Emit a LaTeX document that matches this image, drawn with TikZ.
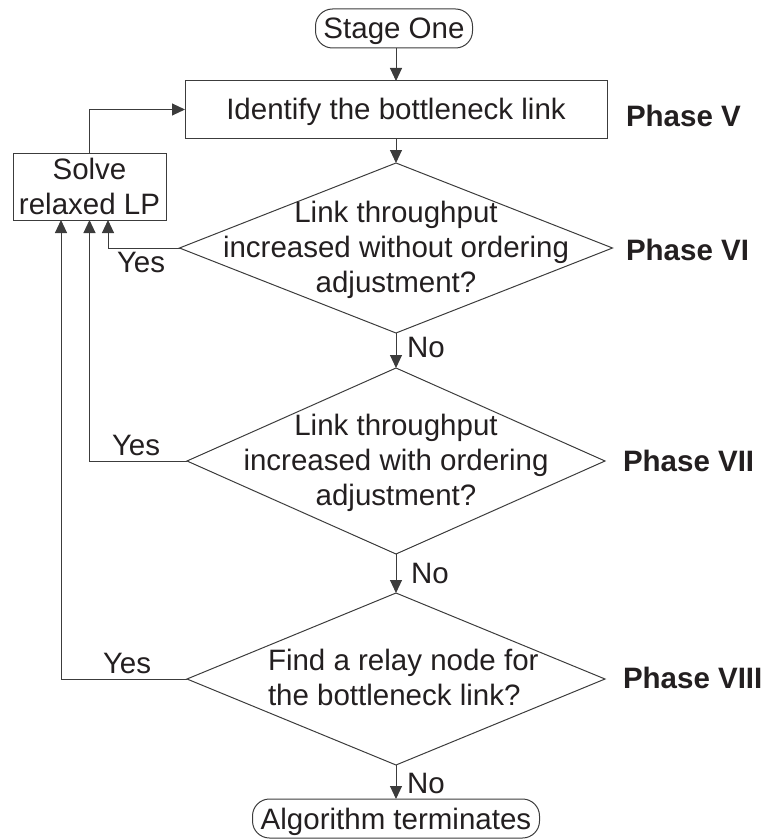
\documentclass[tikz,border=0pt]{standalone}
\usepackage{fontspec}
\setmainfont{Liberation Sans}
\usetikzlibrary{shapes.geometric,arrows.meta}
\definecolor{ink}{HTML}{231F20}
\definecolor{wire}{HTML}{3C3C3C}

\begin{document}
\begin{tikzpicture}[x=1pt,y=-1pt,
  txt/.style={font=\fontsize{29.5}{35}\selectfont, text=ink, inner sep=0pt, outer sep=0pt},
  lbl/.style={txt, anchor=base west},
  phase/.style={lbl, font=\fontsize{29.5}{35}\selectfont\bfseries},
  procbox/.style={txt, draw=wire, line width=1pt, rectangle, text height=21pt, text depth=0pt},
  termbox/.style={procbox, rounded corners=17pt},
  decision/.style={diamond, draw=wire, line width=1pt, inner sep=0pt, outer sep=0pt},
  twolines/.style={text height=56pt, text depth=0pt},
  threelines/.style={text height=91pt, text depth=0pt},
  wirearrow/.style={draw=wire, line width=1pt, -{Triangle[length=13pt,width=12pt]}}
]
\useasboundingbox (0,0) rectangle (766,840);

% main column
\node[termbox, minimum width=157pt, minimum height=39pt] (start) at (394,28.5) {Stage One};
\node[procbox, minimum width=422pt, minimum height=57pt] (ident) at (396,109.5) {Identify the bottleneck link};
\node[procbox, align=center, twolines, minimum width=153pt, minimum height=67pt] (solve) at (89.5,186.5) {Solve\\relaxed LP};

\node[decision, minimum width=433pt, minimum height=170pt] (d1) at (396,248) {};
\node[txt, align=center, threelines] (d1t) at (396,246.5)
  {Link throughput\\increased without ordering\\adjustment?};

\node[decision, minimum width=418pt, minimum height=186pt] (d2) at (396,461) {};
\node[txt, align=center, threelines] (d2t) at (396,459.5)
  {Link throughput\\increased with ordering\\adjustment?};

\node[decision, minimum width=418pt, minimum height=172pt] (d3) at (396,679) {};
\node[txt, align=left, twolines, anchor=west] (d3t) at (268,677)
  {Find a relay node for\\the bottleneck link?};

\node[termbox, minimum width=287pt, minimum height=39pt] (stop) at (396,818.5) {Algorithm terminates};

% phase labels
\node[phase] (p5) at (626,127) {Phase V};
\node[phase] (p6) at (626,260) {Phase VI};
\node[phase] (p7) at (623,471) {Phase VII};
\node[phase] (p8) at (623,688) {Phase VIII};

% branch labels
\node[lbl] (no1) at (407,357) {No};
\node[lbl] (no2) at (411,583) {No};
\node[lbl] (no3) at (407,793) {No};
\node[lbl] (yes1) at (117,272) {Yes};
\node[lbl] (yes2) at (112,455) {Yes};
\node[lbl] (yes3) at (103,673) {Yes};

% connectors
\draw[wirearrow] (start.south -| ident.north) -- (ident.north);
\draw[wirearrow] (ident.south) -- (d1.north);
\draw[wirearrow] (d1.south) -- (d2.north);
\draw[wirearrow] (d2.south) -- (d3.north);
\draw[wirearrow] (d3.south) -- (stop.north);
\draw[wirearrow] (d1.west) -| ([xshift=18.5pt]solve.south);
\draw[wirearrow] (d2.west) -| (solve.south);
\draw[wirearrow] (d3.west) -| ([xshift=-28.5pt]solve.south);
\draw[wirearrow] (solve.north) |- (ident.west);
\end{tikzpicture}
\end{document}
